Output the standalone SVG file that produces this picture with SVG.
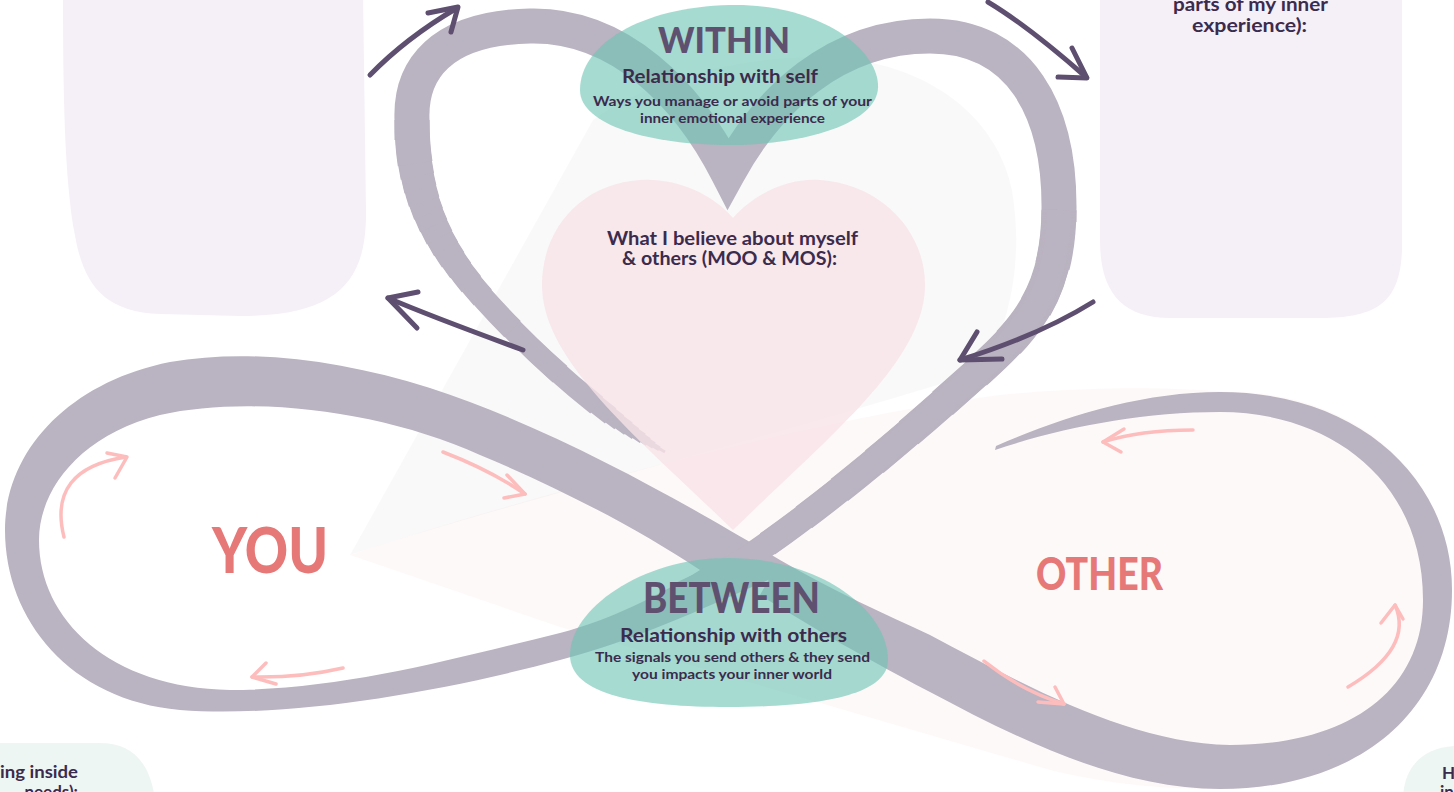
<svg xmlns="http://www.w3.org/2000/svg" width="1454" height="792" viewBox="0 0 1454 792">
<defs>
<style>
.lav{fill:#f5f0f7}
.mint{fill:#eef6f3}
.band{fill:#bab3c1}
.bs{fill:none;stroke:#bab3c1;stroke-linejoin:miter;stroke-miterlimit:6;stroke-linecap:butt}
.bubble{fill:#6ec5b5;fill-opacity:0.62}
.darr{fill:none;stroke:#5e4f70;stroke-width:5;stroke-linecap:round;stroke-linejoin:round}
.parr{fill:none;stroke:#fdbdbd;stroke-width:3.5;stroke-linecap:round;stroke-linejoin:round}
.t{font-family:Lato,"Open Sans","Liberation Sans",sans-serif;fill:#3b2b4d;font-weight:700;text-anchor:middle}
.disp{font-family:Lato,"Liberation Sans",sans-serif;font-weight:900;text-anchor:middle}
</style>
<path id="tail" pathLength="100" d="M665,452 C600,415 530,350 485,300 C440,250 412,200 412,120"/>
<path id="lower" pathLength="100" d="M1059,210 C1058,290 1030,325 980,370 C930,415 840,495 750,556 C725,572 705,583 680,594"/>
</defs>
<rect width="1454" height="792" fill="#ffffff"/>
<g id="background">
<path d="M350,555 L593,120 C660,70 790,45 873,63 C950,80 1000,130 1012,190 C1022,250 1015,310 985,370 C800,430 500,505 350,555 Z" fill="#000" fill-opacity="0.025"/>
<path d="M350,555 C500,505 800,420 1000,395 C1100,385 1180,388 1230,392 C1360,392 1452,480 1452,590 C1452,710 1360,789 1220,789 C1150,789 1100,782 1050,770 L560,627 Z" fill="#e8a0a0" fill-opacity="0.06"/>
</g>
<g id="card-top-left"><path class="lav" d="M63,-10 L363,-10 L366,210 C367,280 340,316 240,316 L160,314 C100,312 82,280 74,230 C66,180 63,120 63,-10 Z"/></g>
<g id="card-top-right"><path class="lav" d="M1100,-10 L1402,-10 L1402,250 C1400,300 1380,318 1320,318 L1170,318 C1120,318 1100,290 1100,240 Z"/>
<text class="t" x="1250.5" y="11" font-size="18" textLength="155" lengthAdjust="spacingAndGlyphs">parts of my inner</text>
<text class="t" x="1249.5" y="32" font-size="18" textLength="115" lengthAdjust="spacingAndGlyphs">experience):</text></g>
<g id="card-bottom-left"><path class="mint" d="M-10,743 L100,743 C130,743 150,760 155,800 L-10,800 Z"/>
<text class="t" x="78" y="778" font-size="17" style="text-anchor:end" textLength="78" lengthAdjust="spacingAndGlyphs">ing inside</text>
<text class="t" x="78" y="798" font-size="17" style="text-anchor:end">needs):</text></g>
<g id="card-bottom-right"><path class="mint" d="M1403,800 C1403,770 1420,748 1454,746 L1460,746 L1460,800 Z"/>
<text class="t" x="1442" y="779" font-size="17" style="text-anchor:start">H</text>
<text class="t" x="1440" y="798" font-size="17" style="text-anchor:start">in</text></g>
<g id="loop">
<path class="band" fill-rule="evenodd" d="M780,560 C700,512 560,430 430,388 C340,360 250,348 170,362 C70,382 5,450 5,530 C5,620 70,700 180,710 C280,718 430,695 560,660 C640,640 720,600 780,575 Z M700,570 C640,530 560,488 480,455 C380,410 250,395 160,415 C80,435 39,490 39,540 C39,620 110,688 230,690 C340,690 450,660 560,633 C610,620 660,595 700,570 Z"/>
<path class="band" d="M780,560 C835,592 885,614 930,635 C1030,688 1130,743 1230,745 C1350,745 1423,690 1423,600 C1423,480 1330,412 1220,412 C1140,412 1060,428 995,450 L996,446 C1060,418 1140,392 1220,392 C1360,392 1452,480 1452,590 C1452,710 1360,789 1220,789 C1120,789 1020,740 930,692 C850,650 800,620 760,595 Z"/>
<path class="bs" stroke-width="35" d="M412,140 L412,120 C410,70 440,28 530,26 C620,24 688,95 728,173 C768,100 835,36 930,36 C1020,36 1060,110 1059,210 L1059,222"/>
<g class="bs">
<use href="#tail" stroke-width="3" stroke-dasharray="0 0 200"/>
<use href="#tail" stroke-width="5" stroke-dasharray="0 1.5 200"/>
<use href="#tail" stroke-width="7" stroke-dasharray="0 3 200"/>
<use href="#tail" stroke-width="9" stroke-dasharray="0 4.5 200"/>
<use href="#tail" stroke-width="11" stroke-dasharray="0 6 200"/>
<use href="#tail" stroke-width="13" stroke-dasharray="0 8 200"/>
<use href="#tail" stroke-width="15" stroke-dasharray="0 10 200"/>
<use href="#tail" stroke-width="17" stroke-dasharray="0 12.5 200"/>
<use href="#tail" stroke-width="19" stroke-dasharray="0 15 200"/>
<use href="#tail" stroke-width="21" stroke-dasharray="0 19 200"/>
<use href="#tail" stroke-width="22" stroke-dasharray="0 30 200"/>
<use href="#tail" stroke-width="23" stroke-dasharray="0 45 200"/>
<use href="#tail" stroke-width="24" stroke-dasharray="0 55 200"/>
<use href="#tail" stroke-width="25" stroke-dasharray="0 59 200"/>
<use href="#tail" stroke-width="26" stroke-dasharray="0 63 200"/>
<use href="#tail" stroke-width="27" stroke-dasharray="0 66 200"/>
<use href="#tail" stroke-width="28" stroke-dasharray="0 69 200"/>
<use href="#tail" stroke-width="29" stroke-dasharray="0 72 200"/>
<use href="#tail" stroke-width="30" stroke-dasharray="0 75 200"/>
<use href="#tail" stroke-width="31" stroke-dasharray="0 78 200"/>
<use href="#tail" stroke-width="32" stroke-dasharray="0 81 200"/>
<use href="#tail" stroke-width="33" stroke-dasharray="0 84 200"/>
<use href="#tail" stroke-width="34" stroke-dasharray="0 87 200"/>
<use href="#tail" stroke-width="35" stroke-dasharray="0 90 200"/>
<use href="#lower" stroke-width="35" stroke-dasharray="10 200"/>
<use href="#lower" stroke-width="34" stroke-dasharray="18 200"/>
<use href="#lower" stroke-width="33" stroke-dasharray="26 200"/>
<use href="#lower" stroke-width="32" stroke-dasharray="34 200"/>
<use href="#lower" stroke-width="31" stroke-dasharray="42 200"/>
<use href="#lower" stroke-width="30" stroke-dasharray="50 200"/>
<use href="#lower" stroke-width="29" stroke-dasharray="58 200"/>
<use href="#lower" stroke-width="28" stroke-dasharray="66 200"/>
<use href="#lower" stroke-width="27" stroke-dasharray="74 200"/>
<use href="#lower" stroke-width="26" stroke-dasharray="82 200"/>
<use href="#lower" stroke-width="25" stroke-dasharray="90 200"/>
<use href="#lower" stroke-width="24" stroke-dasharray="100 200"/>
</g>
</g>
<g id="node-heart">
<path d="M733,218 C710,192 675,178 640,180 C580,184 542,230 542,285 C542,360 635,435 733,530 C831,435 925,360 925,285 C925,230 880,184 820,180 C790,178 756,192 733,218 Z" fill="#f8e2e7" fill-opacity="0.8"/>
<text class="t" x="732.5" y="245" font-size="18" textLength="251" lengthAdjust="spacingAndGlyphs">What I believe about myself</text>
<text class="t" x="729.5" y="265" font-size="18" textLength="215" lengthAdjust="spacingAndGlyphs">&amp; others (MOO &amp; MOS):</text>
</g>
<g id="node-within">
<path class="bubble" d="M730,5 C820,3 880,50 878,88 C876,125 800,145 730,145 C650,145 580,125 580,90 C580,45 640,7 730,5 Z"/>
<text class="disp" x="724" y="53" font-size="36" fill="#5f5070" textLength="132" lengthAdjust="spacingAndGlyphs">WITHIN</text>
<text class="t" x="720" y="83" font-size="18" textLength="196" lengthAdjust="spacingAndGlyphs">Relationship with self</text>
<text class="t" x="732.5" y="106" font-size="14" textLength="279" lengthAdjust="spacingAndGlyphs">Ways you manage or avoid parts of your</text>
<text class="t" x="732.5" y="123" font-size="14" textLength="185" lengthAdjust="spacingAndGlyphs">inner emotional experience</text>
</g>
<g id="node-between">
<path class="bubble" d="M728,558 C820,558 888,610 888,660 C888,695 820,707 728,707 C640,707 570,695 570,655 C570,610 640,558 728,558 Z"/>
<text class="disp" x="731.5" y="613" font-size="42" fill="#5f5070" textLength="177" lengthAdjust="spacingAndGlyphs">BETWEEN</text>
<text class="t" x="733.5" y="642" font-size="18.5" textLength="227" lengthAdjust="spacingAndGlyphs">Relationship with others</text>
<text class="t" x="732.5" y="662" font-size="14" textLength="275" lengthAdjust="spacingAndGlyphs">The signals you send others &amp; they send</text>
<text class="t" x="732" y="679" font-size="14" textLength="200" lengthAdjust="spacingAndGlyphs">you impacts your inner world</text>
</g>
<g id="node-you"><text class="disp" x="270" y="573" font-size="62" fill="#e67878" textLength="116" lengthAdjust="spacingAndGlyphs">YOU</text></g>
<g id="node-other"><text class="disp" x="1099.5" y="590" font-size="45" fill="#e67878" textLength="127" lengthAdjust="spacingAndGlyphs">OTHER</text></g>
<g id="connectors">
<path class="darr" d="M370,75 Q406,38 457,8"/><path class="darr" d="M428,13 L458,7 L451,32"/>
<path class="darr" d="M988,2 Q1028,26 1086,77"/><path class="darr" d="M1058,77 L1087,78 L1072,48"/>
<path class="darr" d="M523,350 Q430,316 388,298"/><path class="darr" d="M418,292 L388,298 L417,328"/>
<path class="darr" d="M1093,302 Q1040,335 960,360"/><path class="darr" d="M977,332 L960,360 L1002,359"/>
<path class="parr" d="M64,537 Q47,469 126,457"/><path class="parr" d="M107,453 L127,457 L115,478"/>
<path class="parr" d="M443,452 Q490,470 525,494"/><path class="parr" d="M507,475 L525,494 L504,498"/>
<path class="parr" d="M343,668 Q300,678 252,677"/><path class="parr" d="M266,663 L252,677 L276,684"/>
<path class="parr" d="M1193,430 Q1140,430 1103,442"/><path class="parr" d="M1124,429 L1103,442 L1121,452"/>
<path class="parr" d="M984,661 Q1020,690 1064,704"/><path class="parr" d="M1055,687 L1064,704 L1038,702"/>
<path class="parr" d="M1348,687 Q1414,648 1395,605"/><path class="parr" d="M1381,623 L1395,605 L1403,619"/>
</g>
</svg>
